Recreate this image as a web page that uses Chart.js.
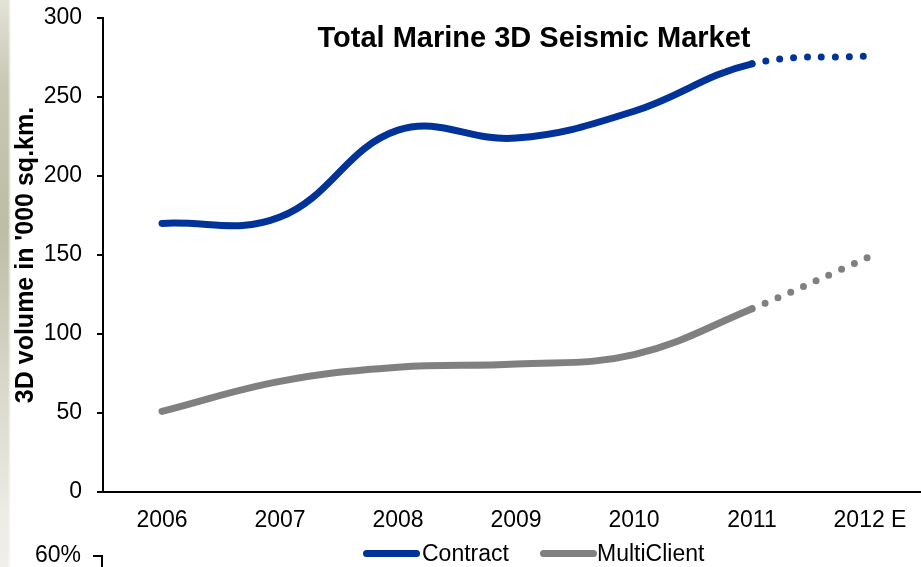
<!DOCTYPE html>
<html>
<head>
<meta charset="utf-8">
<script src="https://cdn.jsdelivr.net/npm/chart.js@4/dist/chart.umd.min.js"></script>
<style>
  html, body { margin: 0; padding: 0; background: #fff; overflow: hidden; }
  body { width: 921px; height: 567px; position: relative; font-family: 'Liberation Sans', Arial, sans-serif; }
  .edge {
    position: absolute; left: 0; top: 0; width: 11px; height: 567px;
    background: linear-gradient(to bottom, #e2e2d6 0%, #c9c8b4 15%, #bdbca5 40%, #d6d5c6 65%, #ecebe4 90%, #f0efea 100%);
  }
  .edge::after {
    content: ''; position: absolute; right: 0; top: 0; width: 3px; height: 100%;
    background: linear-gradient(to right, rgba(255,255,255,0), #fff);
  }
  .wrap { position: absolute; left: 0; top: 0; width: 935px; height: 567px; }
  .legend { position: absolute; top: 540px; height: 27px; font-size: 23px; color: #000; }
  .legend .swatch { position: absolute; top: 10px; height: 7px; border-radius: 4px; }
  .legend .txt { position: absolute; top: 0; line-height: 27px; white-space: nowrap; }
  .next-axis { position: absolute; left: 0; top: 541px; width: 81px; text-align: right; font-size: 23px; line-height: 27px; }
  .next-tick { position: absolute; left: 93px; top: 555px; width: 10px; height: 14px; border-top: 2px solid #000; border-right: 2px solid #000; box-sizing: border-box; }
</style>
</head>
<body>
<div class="edge"></div>
<div class="wrap"><canvas id="chart" width="935" height="567"></canvas></div>
<div class="legend" id="legend"></div>
<div class="next-axis">60%</div>
<div class="next-tick"></div>
<script>
var years = ['2006', '2007', '2008', '2009', '2010', '2011', '2012 E'];
var contract = [170, 174, 229, 224, 241, 271, 276];
var multiClient = [51, 70, 79, 81, 87, 116, 149];
var yTicks = [0, 50, 100, 150, 200, 250, 300];
var chartTitle = 'Total Marine 3D Seismic Market';
var yTitle = "3D volume in '000 sq.km.";

var blue = '#003399';
var grey = '#808080';
var fontFamily = "'Liberation Sans', Arial, sans-serif";

// last segment (2011 -> 2012 E) is an estimate, drawn dotted
function estimateDash(ctx) {
  return ctx.p1DataIndex === years.length - 1 ? [0, 14] : undefined;
}
function estimateWidth(ctx) {
  return ctx.p1DataIndex === years.length - 1 ? 7 : undefined;
}

var titlePlugin = {
  id: 'innerTitle',
  afterDraw: function (chart) {
    var c = chart.ctx;
    c.save();
    c.font = 'bold 29px ' + fontFamily;
    c.fillStyle = '#000';
    c.textAlign = 'center';
    c.textBaseline = 'alphabetic';
    c.fillText(chartTitle, 534, 47);
    c.restore();
  }
};

new Chart(document.getElementById('chart'), {
  type: 'line',
  data: {
    labels: years,
    datasets: [
      {
        label: 'Contract',
        data: contract,
        borderColor: blue,
        backgroundColor: blue,
        borderWidth: 7,
        borderCapStyle: 'round',
        borderJoinStyle: 'round',
        tension: 0.4,
        pointRadius: 0,
        segment: { borderDash: estimateDash, borderWidth: estimateWidth }
      },
      {
        label: 'MultiClient',
        data: multiClient,
        borderColor: grey,
        backgroundColor: grey,
        borderWidth: 7,
        borderCapStyle: 'round',
        borderJoinStyle: 'round',
        tension: 0.4,
        pointRadius: 0,
        segment: { borderDash: estimateDash, borderWidth: estimateWidth }
      }
    ]
  },
  options: {
    responsive: false,
    animation: false,
    layout: { padding: { top: 18, right: 6, bottom: 0, left: 0 } },
    plugins: {
      legend: { display: false },
      tooltip: { enabled: false }
    },
    scales: {
      x: {
        offset: true,
        grid: { display: false, drawTicks: false },
        border: { display: true, color: '#000', width: 2 },
        ticks: { color: '#000', padding: 15, maxRotation: 0, font: { family: fontFamily, size: 23 } },
        afterFit: function (scale) {
          scale.height = 75;
          scale.paddingLeft = 0;
          scale.paddingRight = 0;
        }
      },
      y: {
        min: 0,
        max: 300,
        afterBuildTicks: function (scale) {
          scale.ticks = yTicks.map(function (v) { return { value: v }; });
        },
        grid: { drawOnChartArea: false, drawTicks: true, tickLength: 6, color: '#000', lineWidth: 2 },
        border: { display: true, color: '#000', width: 2 },
        ticks: { color: '#000', padding: 15, font: { family: fontFamily, size: 23 } },
        title: {
          display: true,
          text: yTitle,
          color: '#000',
          padding: { top: 11, bottom: 0 },
          font: { family: fontFamily, size: 25, weight: 'bold' }
        },
        afterFit: function (scale) {
          scale.width = 103;
          scale.paddingTop = 0;
          scale.paddingBottom = 0;
        }
      }
    }
  },
  plugins: [titlePlugin]
});

// legend below the axis labels
var legendItems = [
  { text: 'Contract', color: blue, swatch: 363, label: 422 },
  { text: 'MultiClient', color: grey, swatch: 540, label: 597 }
];
var legendEl = document.getElementById('legend');
legendItems.forEach(function (item) {
  var sw = document.createElement('div');
  sw.className = 'swatch';
  sw.style.left = item.swatch + 'px';
  sw.style.width = '57px';
  sw.style.background = item.color;
  legendEl.appendChild(sw);
  var tx = document.createElement('div');
  tx.className = 'txt';
  tx.style.left = item.label + 'px';
  tx.textContent = item.text;
  legendEl.appendChild(tx);
});
</script>
</body>
</html>
